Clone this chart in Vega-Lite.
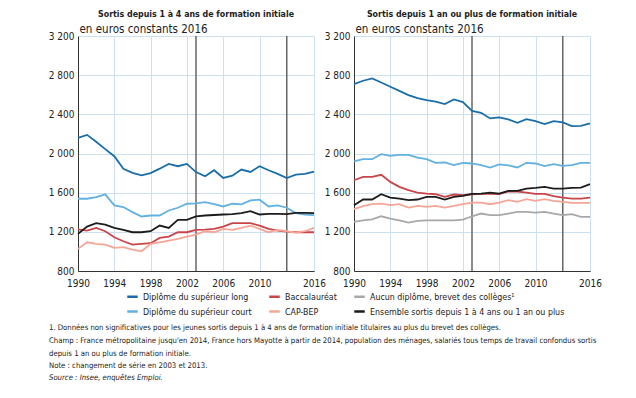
{
  "$schema": "https://vega.github.io/schema/vega-lite/v6.json",
  "background": "white",
  "padding": {"left": 48, "top": 10, "right": 10, "bottom": 5},
  "config": {
    "font": "Liberation Sans Narrow, Arial Narrow, DejaVu Sans Condensed, sans-serif",
    "locale": {"number": {"decimal": ",", "thousands": "\u00a0", "grouping": [3], "currency": ["", " €"]}},
    "view": {"stroke": null},
    "axis": {"labelFontSize": 10, "labelColor": "#222", "gridColor": "#cde0f2", "gridWidth": 1, "domainColor": "#333", "domainWidth": 1, "ticks": false, "labelPadding": 4, "labelOverlap": false, "labelFlush": false},
    "axisX": {"labelPadding": 7},
    "title": {"fontSize": 8.8, "fontWeight": "bold", "color": "#222"}
  },
  "datasets": {
    "left": [
      {"year": 1990, "Diplôme du supérieur long": 2160, "Diplôme du supérieur court": 1538, "Baccalauréat": 1225, "CAP-BEP": 1026, "Ensemble sortis depuis 1 à 4 ans ou 1 an ou plus": 1179},
      {"year": 1991, "Diplôme du supérieur long": 2190, "Diplôme du supérieur court": 1538, "Baccalauréat": 1213, "CAP-BEP": 1093, "Ensemble sortis depuis 1 à 4 ans ou 1 an ou plus": 1254},
      {"year": 1992, "Diplôme du supérieur long": 2120, "Diplôme du supérieur court": 1555, "Baccalauréat": 1240, "CAP-BEP": 1077, "Ensemble sortis depuis 1 à 4 ans ou 1 an ou plus": 1288},
      {"year": 1993, "Diplôme du supérieur long": 2045, "Diplôme du supérieur court": 1583, "Baccalauréat": 1206, "CAP-BEP": 1070, "Ensemble sortis depuis 1 à 4 ans ou 1 an ou plus": 1274},
      {"year": 1994, "Diplôme du supérieur long": 1972, "Diplôme du supérieur court": 1470, "Baccalauréat": 1145, "CAP-BEP": 1036, "Ensemble sortis depuis 1 à 4 ans ou 1 an ou plus": 1240},
      {"year": 1995, "Diplôme du supérieur long": 1843, "Diplôme du supérieur court": 1453, "Baccalauréat": 1104, "CAP-BEP": 1043, "Ensemble sortis depuis 1 à 4 ans ou 1 an ou plus": 1220},
      {"year": 1996, "Diplôme du supérieur long": 1802, "Diplôme du supérieur court": 1401, "Baccalauréat": 1070, "CAP-BEP": 1019, "Ensemble sortis depuis 1 à 4 ans ou 1 an ou plus": 1196},
      {"year": 1997, "Diplôme du supérieur long": 1777, "Diplôme du supérieur court": 1357, "Baccalauréat": 1077, "CAP-BEP": 1001, "Ensemble sortis depuis 1 à 4 ans ou 1 an ou plus": 1196},
      {"year": 1998, "Diplôme du supérieur long": 1800, "Diplôme du supérieur court": 1367, "Baccalauréat": 1084, "CAP-BEP": 1077, "Ensemble sortis depuis 1 à 4 ans ou 1 an ou plus": 1206},
      {"year": 1999, "Diplôme du supérieur long": 1845, "Diplôme du supérieur court": 1367, "Baccalauréat": 1138, "CAP-BEP": 1093, "Ensemble sortis depuis 1 à 4 ans ou 1 an ou plus": 1264},
      {"year": 2000, "Diplôme du supérieur long": 1894, "Diplôme du supérieur court": 1418, "Baccalauréat": 1152, "CAP-BEP": 1111, "Ensemble sortis depuis 1 à 4 ans ou 1 an ou plus": 1240},
      {"year": 2001, "Diplôme du supérieur long": 1870, "Diplôme du supérieur court": 1446, "Baccalauréat": 1196, "CAP-BEP": 1128, "Ensemble sortis depuis 1 à 4 ans ou 1 an ou plus": 1322},
      {"year": 2002, "Diplôme du supérieur long": 1894, "Diplôme du supérieur court": 1487, "Baccalauréat": 1196, "CAP-BEP": 1152, "Ensemble sortis depuis 1 à 4 ans ou 1 an ou plus": 1322},
      {"year": 2003, "Diplôme du supérieur long": 1810, "Diplôme du supérieur court": 1490, "Baccalauréat": 1220, "CAP-BEP": 1172, "Ensemble sortis depuis 1 à 4 ans ou 1 an ou plus": 1358},
      {"year": 2004, "Diplôme du supérieur long": 1767, "Diplôme du supérieur court": 1504, "Baccalauréat": 1222, "CAP-BEP": 1206, "Ensemble sortis depuis 1 à 4 ans ou 1 an ou plus": 1367},
      {"year": 2005, "Diplôme du supérieur long": 1829, "Diplôme du supérieur court": 1482, "Baccalauréat": 1230, "CAP-BEP": 1196, "Ensemble sortis depuis 1 à 4 ans ou 1 an ou plus": 1372},
      {"year": 2006, "Diplôme du supérieur long": 1750, "Diplôme du supérieur court": 1459, "Baccalauréat": 1254, "CAP-BEP": 1230, "Ensemble sortis depuis 1 à 4 ans ou 1 an ou plus": 1377},
      {"year": 2007, "Diplôme du supérieur long": 1774, "Diplôme du supérieur court": 1487, "Baccalauréat": 1288, "CAP-BEP": 1220, "Ensemble sortis depuis 1 à 4 ans ou 1 an ou plus": 1380},
      {"year": 2008, "Diplôme du supérieur long": 1836, "Diplôme du supérieur court": 1480, "Baccalauréat": 1288, "CAP-BEP": 1240, "Ensemble sortis depuis 1 à 4 ans ou 1 an ou plus": 1391},
      {"year": 2009, "Diplôme du supérieur long": 1812, "Diplôme du supérieur court": 1521, "Baccalauréat": 1288, "CAP-BEP": 1264, "Ensemble sortis depuis 1 à 4 ans ou 1 an ou plus": 1411},
      {"year": 2010, "Diplôme du supérieur long": 1870, "Diplôme du supérieur court": 1528, "Baccalauréat": 1264, "CAP-BEP": 1230, "Ensemble sortis depuis 1 à 4 ans ou 1 an ou plus": 1377},
      {"year": 2011, "Diplôme du supérieur long": 1829, "Diplôme du supérieur court": 1459, "Baccalauréat": 1230, "CAP-BEP": 1196, "Ensemble sortis depuis 1 à 4 ans ou 1 an ou plus": 1384},
      {"year": 2012, "Diplôme du supérieur long": 1792, "Diplôme du supérieur court": 1470, "Baccalauréat": 1213, "CAP-BEP": 1220, "Ensemble sortis depuis 1 à 4 ans ou 1 an ou plus": 1384},
      {"year": 2013, "Diplôme du supérieur long": 1750, "Diplôme du supérieur court": 1446, "Baccalauréat": 1203, "CAP-BEP": 1206, "Ensemble sortis depuis 1 à 4 ans ou 1 an ou plus": 1380},
      {"year": 2014, "Diplôme du supérieur long": 1784, "Diplôme du supérieur court": 1391, "Baccalauréat": 1196, "CAP-BEP": 1193, "Ensemble sortis depuis 1 à 4 ans ou 1 an ou plus": 1394},
      {"year": 2015, "Diplôme du supérieur long": 1792, "Diplôme du supérieur court": 1377, "Baccalauréat": 1196, "CAP-BEP": 1206, "Ensemble sortis depuis 1 à 4 ans ou 1 an ou plus": 1394},
      {"year": 2016, "Diplôme du supérieur long": 1815, "Diplôme du supérieur court": 1370, "Baccalauréat": 1196, "CAP-BEP": 1240, "Ensemble sortis depuis 1 à 4 ans ou 1 an ou plus": 1391}
    ],
    "right": [
      {"year": 1990, "Diplôme du supérieur long": 2709, "Diplôme du supérieur court": 1920, "Baccalauréat": 1727, "CAP-BEP": 1431, "Aucun diplôme, brevet des collèges¹": 1301, "Ensemble sortis depuis 1 à 4 ans ou 1 an ou plus": 1472},
      {"year": 1991, "Diplôme du supérieur long": 2743, "Diplôme du supérieur court": 1942, "Baccalauréat": 1761, "CAP-BEP": 1462, "Aucun diplôme, brevet des collèges¹": 1318, "Ensemble sortis depuis 1 à 4 ans ou 1 an ou plus": 1530},
      {"year": 1992, "Diplôme du supérieur long": 2767, "Diplôme du supérieur court": 1942, "Baccalauréat": 1761, "CAP-BEP": 1482, "Aucun diplôme, brevet des collèges¹": 1328, "Ensemble sortis depuis 1 à 4 ans ou 1 an ou plus": 1530},
      {"year": 1993, "Diplôme du supérieur long": 2725, "Diplôme du supérieur court": 1993, "Baccalauréat": 1782, "CAP-BEP": 1489, "Aucun diplôme, brevet des collèges¹": 1359, "Ensemble sortis depuis 1 à 4 ans ou 1 an ou plus": 1584},
      {"year": 1994, "Diplôme du supérieur long": 2682, "Diplôme du supérieur court": 1976, "Baccalauréat": 1710, "CAP-BEP": 1472, "Aucun diplôme, brevet des collèges¹": 1335, "Ensemble sortis depuis 1 à 4 ans ou 1 an ou plus": 1550},
      {"year": 1995, "Diplôme du supérieur long": 2640, "Diplôme du supérieur court": 1986, "Baccalauréat": 1659, "CAP-BEP": 1482, "Aucun diplôme, brevet des collèges¹": 1318, "Ensemble sortis depuis 1 à 4 ans ou 1 an ou plus": 1540},
      {"year": 1996, "Diplôme du supérieur long": 2597, "Diplôme du supérieur court": 1986, "Baccalauréat": 1625, "CAP-BEP": 1448, "Aucun diplôme, brevet des collèges¹": 1295, "Ensemble sortis depuis 1 à 4 ans ou 1 an ou plus": 1523},
      {"year": 1997, "Diplôme du supérieur long": 2565, "Diplôme du supérieur court": 1959, "Baccalauréat": 1601, "CAP-BEP": 1465, "Aucun diplôme, brevet des collèges¹": 1311, "Ensemble sortis depuis 1 à 4 ans ou 1 an ou plus": 1530},
      {"year": 1998, "Diplôme du supérieur long": 2546, "Diplôme du supérieur court": 1942, "Baccalauréat": 1591, "CAP-BEP": 1455, "Aucun diplôme, brevet des collèges¹": 1318, "Ensemble sortis depuis 1 à 4 ans ou 1 an ou plus": 1557},
      {"year": 1999, "Diplôme du supérieur long": 2530, "Diplôme du supérieur court": 1905, "Baccalauréat": 1584, "CAP-BEP": 1465, "Aucun diplôme, brevet des collèges¹": 1318, "Ensemble sortis depuis 1 à 4 ans ou 1 an ou plus": 1557},
      {"year": 2000, "Diplôme du supérieur long": 2505, "Diplôme du supérieur court": 1908, "Baccalauréat": 1557, "CAP-BEP": 1448, "Aucun diplôme, brevet des collèges¹": 1318, "Ensemble sortis depuis 1 à 4 ans ou 1 an ou plus": 1530},
      {"year": 2001, "Diplôme du supérieur long": 2553, "Diplôme du supérieur court": 1881, "Baccalauréat": 1581, "CAP-BEP": 1465, "Aucun diplôme, brevet des collèges¹": 1318, "Ensemble sortis depuis 1 à 4 ans ou 1 an ou plus": 1557},
      {"year": 2002, "Diplôme du supérieur long": 2525, "Diplôme du supérieur court": 1905, "Baccalauréat": 1574, "CAP-BEP": 1482, "Aucun diplôme, brevet des collèges¹": 1325, "Ensemble sortis depuis 1 à 4 ans ou 1 an ou plus": 1567},
      {"year": 2003, "Diplôme du supérieur long": 2435, "Diplôme du supérieur court": 1898, "Baccalauréat": 1584, "CAP-BEP": 1499, "Aucun diplôme, brevet des collèges¹": 1359, "Ensemble sortis depuis 1 à 4 ans ou 1 an ou plus": 1588},
      {"year": 2004, "Diplôme du supérieur long": 2416, "Diplôme du supérieur court": 1881, "Baccalauréat": 1588, "CAP-BEP": 1499, "Aucun diplôme, brevet des collèges¹": 1387, "Ensemble sortis depuis 1 à 4 ans ou 1 an ou plus": 1591},
      {"year": 2005, "Diplôme du supérieur long": 2358, "Diplôme du supérieur court": 1857, "Baccalauréat": 1588, "CAP-BEP": 1482, "Aucun diplôme, brevet des collèges¹": 1370, "Ensemble sortis depuis 1 à 4 ans ou 1 an ou plus": 1601},
      {"year": 2006, "Diplôme du supérieur long": 2368, "Diplôme du supérieur court": 1888, "Baccalauréat": 1585, "CAP-BEP": 1499, "Aucun diplôme, brevet des collèges¹": 1370, "Ensemble sortis depuis 1 à 4 ans ou 1 an ou plus": 1591},
      {"year": 2007, "Diplôme du supérieur long": 2348, "Diplôme du supérieur court": 1878, "Baccalauréat": 1612, "CAP-BEP": 1523, "Aucun diplôme, brevet des collèges¹": 1387, "Ensemble sortis depuis 1 à 4 ans ou 1 an ou plus": 1619},
      {"year": 2008, "Diplôme du supérieur long": 2314, "Diplôme du supérieur court": 1857, "Baccalauréat": 1612, "CAP-BEP": 1506, "Aucun diplôme, brevet des collèges¹": 1404, "Ensemble sortis depuis 1 à 4 ans ou 1 an ou plus": 1619},
      {"year": 2009, "Diplôme du supérieur long": 2351, "Diplôme du supérieur court": 1905, "Baccalauréat": 1601, "CAP-BEP": 1533, "Aucun diplôme, brevet des collèges¹": 1404, "Ensemble sortis depuis 1 à 4 ans ou 1 an ou plus": 1642},
      {"year": 2010, "Diplôme du supérieur long": 2331, "Diplôme du supérieur court": 1898, "Baccalauréat": 1588, "CAP-BEP": 1516, "Aucun diplôme, brevet des collèges¹": 1397, "Ensemble sortis depuis 1 à 4 ans ou 1 an ou plus": 1649},
      {"year": 2011, "Diplôme du supérieur long": 2300, "Diplôme du supérieur court": 1871, "Baccalauréat": 1588, "CAP-BEP": 1533, "Aucun diplôme, brevet des collèges¹": 1404, "Ensemble sortis depuis 1 à 4 ans ou 1 an ou plus": 1659},
      {"year": 2012, "Diplôme du supérieur long": 2331, "Diplôme du supérieur court": 1891, "Baccalauréat": 1564, "CAP-BEP": 1516, "Aucun diplôme, brevet des collèges¹": 1387, "Ensemble sortis depuis 1 à 4 ans ou 1 an ou plus": 1642},
      {"year": 2013, "Diplôme du supérieur long": 2317, "Diplôme du supérieur court": 1874, "Baccalauréat": 1550, "CAP-BEP": 1506, "Aucun diplôme, brevet des collèges¹": 1370, "Ensemble sortis depuis 1 à 4 ans ou 1 an ou plus": 1642},
      {"year": 2014, "Diplôme du supérieur long": 2280, "Diplôme du supérieur court": 1881, "Baccalauréat": 1540, "CAP-BEP": 1496, "Aucun diplôme, brevet des collèges¹": 1380, "Ensemble sortis depuis 1 à 4 ans ou 1 an ou plus": 1649},
      {"year": 2015, "Diplôme du supérieur long": 2283, "Diplôme du supérieur court": 1905, "Baccalauréat": 1540, "CAP-BEP": 1496, "Aucun diplôme, brevet des collèges¹": 1353, "Ensemble sortis depuis 1 à 4 ans ou 1 an ou plus": 1652},
      {"year": 2016, "Diplôme du supérieur long": 2307, "Diplôme du supérieur court": 1905, "Baccalauréat": 1550, "CAP-BEP": 1496, "Aucun diplôme, brevet des collèges¹": 1353, "Ensemble sortis depuis 1 à 4 ans ou 1 an ou plus": 1687}
    ],
    "breaks": [{"year": 2003}, {"year": 2013}]
  },
  "title": {
    "text": [
      "1. Données non significatives pour les jeunes sortis depuis 1 à 4 ans de formation initiale titulaires au plus du brevet des collèges.",
      "Champ : France métropolitaine jusqu'en 2014, France hors Mayotte à partir de 2014, population des ménages, salariés tous temps de travail confondus sortis",
      "depuis 1 an ou plus de formation initiale.",
      "Note : changement de série en 2003 et 2013."
    ],
    "subtitle": "Source : Insee, enquêtes Emploi.",
    "orient": "bottom",
    "anchor": "start",
    "frame": "group",
    "dx": -29,
    "fontSize": 7.7,
    "fontWeight": "normal",
    "lineHeight": 12.8,
    "subtitleFontSize": 7.7,
    "subtitleFontStyle": "italic",
    "subtitleColor": "#222",
    "subtitlePadding": 4,
    "offset": 7
  },
  "bounds": "flush",
  "spacing": 40,
  "resolve": {"scale": {"color": "shared"}, "legend": {"color": "shared"}},
  "hconcat": [
    {
      "width": 236,
      "height": 235,
      "title": {"text": "Sortis depuis 1 à 4 ans de formation initiale", "anchor": "middle", "offset": 4},
      "layer": [
        {
          "data": {"name": "breaks"},
          "mark": {"type": "rule", "color": "#666666", "strokeWidth": 1.5},
          "encoding": {"x": {"field": "year", "type": "quantitative", "scale": {"domain": [1990, 2016], "nice": false, "zero": false},
                  "axis": {"title": null, "values": [1990, 1994, 1998, 2002, 2006, 2010, 2016], "format": "d", "grid": true, "labelOverlap": false, "labelFlush": false, "labelPadding": 7, "labelSeparation": 0}}}
        },
        {
          "data": {"name": "left"},
          "transform": [{"fold": ["Diplôme du supérieur long", "Diplôme du supérieur court", "Baccalauréat", "CAP-BEP", "Ensemble sortis depuis 1 à 4 ans ou 1 an ou plus"], "as": ["serie", "value"]}],
          "mark": {"type": "line", "strokeWidth": 1.8},
          "encoding": {
            "x": {"field": "year", "type": "quantitative", "scale": {"domain": [1990, 2016], "nice": false, "zero": false},
                  "axis": {"title": null, "values": [1990, 1994, 1998, 2002, 2006, 2010, 2016], "format": "d", "grid": true, "labelOverlap": false, "labelFlush": false, "labelPadding": 7, "labelSeparation": 0}},
            "y": {"field": "value", "type": "quantitative", "scale": {"domain": [800, 3200], "nice": false, "zero": false},
                  "axis": {"values": [800, 1200, 1600, 2000, 2400, 2800, 3200], "format": ",d", "grid": true, "labelOverlap": false,
                           "title": "en euros constants 2016", "titleAngle": 0, "titleAlign": "left", "titleBaseline": "bottom", "titleX": 1, "titleY": -2, "titleFontWeight": "normal", "titleFontSize": 11.5, "titleColor": "#222"}},
            "color": {"field": "serie", "type": "nominal",
                      "scale": {"domain": ["Diplôme du supérieur long", "Diplôme du supérieur court", "Baccalauréat", "CAP-BEP", "Aucun diplôme, brevet des collèges¹", "Ensemble sortis depuis 1 à 4 ans ou 1 an ou plus"],
                                "range": ["#1a6ea8", "#62b1e0", "#c9454a", "#f6a597", "#a8a8a8", "#1c1c1c"]},
                      "legend": {"orient": "none", "legendX": 48, "legendY": 254, "columns": 3, "title": null, "symbolType": "stroke", "symbolSize": 110, "symbolStrokeWidth": 2.5, "labelFontSize": 8.8, "labelColor": "#222", "labelLimit": 400, "columnPadding": 12, "rowPadding": 3}}
          }
        }
      ]
    },
    {
      "width": 236,
      "height": 235,
      "title": {"text": "Sortis depuis 1 an ou plus de formation initiale", "anchor": "middle", "offset": 4},
      "layer": [
        {
          "data": {"name": "breaks"},
          "mark": {"type": "rule", "color": "#666666", "strokeWidth": 1.5},
          "encoding": {"x": {"field": "year", "type": "quantitative", "scale": {"domain": [1990, 2016], "nice": false, "zero": false},
                  "axis": {"title": null, "values": [1990, 1994, 1998, 2002, 2006, 2010, 2016], "format": "d", "grid": true, "labelOverlap": false, "labelFlush": false, "labelPadding": 7, "labelSeparation": 0}}}
        },
        {
          "data": {"name": "right"},
          "transform": [{"fold": ["Diplôme du supérieur long", "Diplôme du supérieur court", "Baccalauréat", "CAP-BEP", "Aucun diplôme, brevet des collèges¹", "Ensemble sortis depuis 1 à 4 ans ou 1 an ou plus"], "as": ["serie", "value"]}],
          "mark": {"type": "line", "strokeWidth": 1.8},
          "encoding": {
            "x": {"field": "year", "type": "quantitative", "scale": {"domain": [1990, 2016], "nice": false, "zero": false},
                  "axis": {"title": null, "values": [1990, 1994, 1998, 2002, 2006, 2010, 2016], "format": "d", "grid": true, "labelOverlap": false, "labelFlush": false, "labelPadding": 7, "labelSeparation": 0}},
            "y": {"field": "value", "type": "quantitative", "scale": {"domain": [800, 3200], "nice": false, "zero": false},
                  "axis": {"values": [800, 1200, 1600, 2000, 2400, 2800, 3200], "format": ",d", "grid": true, "labelOverlap": false,
                           "title": "en euros constants 2016", "titleAngle": 0, "titleAlign": "left", "titleBaseline": "bottom", "titleX": 1, "titleY": -2, "titleFontWeight": "normal", "titleFontSize": 11.5, "titleColor": "#222"}},
            "color": {"field": "serie", "type": "nominal",
                      "scale": {"domain": ["Diplôme du supérieur long", "Diplôme du supérieur court", "Baccalauréat", "CAP-BEP", "Aucun diplôme, brevet des collèges¹", "Ensemble sortis depuis 1 à 4 ans ou 1 an ou plus"],
                                "range": ["#1a6ea8", "#62b1e0", "#c9454a", "#f6a597", "#a8a8a8", "#1c1c1c"]},
                      "legend": {"orient": "none", "legendX": 48, "legendY": 254, "columns": 3, "title": null, "symbolType": "stroke", "symbolSize": 110, "symbolStrokeWidth": 2.5, "labelFontSize": 8.8, "labelColor": "#222", "labelLimit": 400, "columnPadding": 12, "rowPadding": 3}}
          }
        }
      ]
    }
  ]
}
